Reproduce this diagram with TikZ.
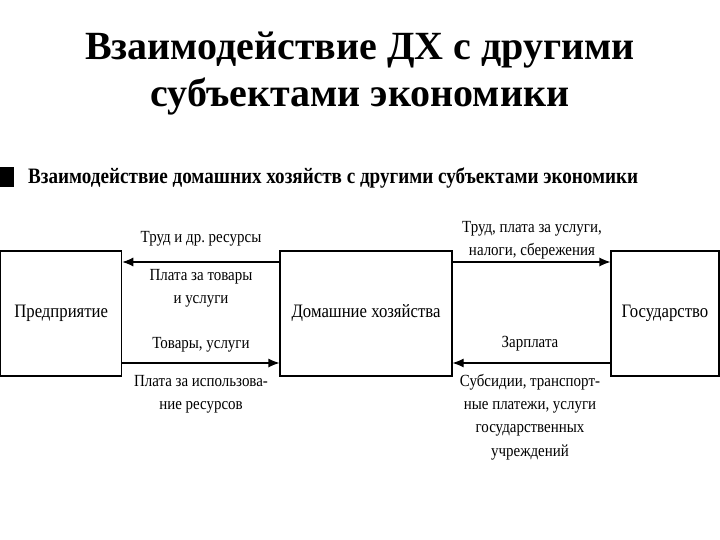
\documentclass[tikz,border=0pt]{standalone}
\usepackage{fontspec}
\setmainfont{Liberation Serif}
\newfontfamily\cond[FakeStretch=0.88]{Liberation Serif}
\usetikzlibrary{arrows.meta}
\begin{document}
\begin{tikzpicture}[x=1pt,y=-1pt,
  box/.style={draw,line width=1.1pt,minimum height=125pt,inner sep=0pt,font=\cond\fontsize{19}{22}\selectfont},
  lbl/.style={align=center,inner sep=0pt,font=\cond\fontsize{17}{23.3}\selectfont},
  arr/.style={line width=1.1pt,-{Latex[length=11pt,width=9pt]}}]
\useasboundingbox (0,0) rectangle (720,540);
\node[align=center,font=\bfseries\fontsize{40}{47}\selectfont] (title) at (360,74) {Взаимодействие ДХ с другими\\субъектами экономики};
\fill (0,167) rectangle (14,187);
\node[anchor=west,inner sep=0pt] (sub) at (28,178) {\resizebox{610pt}{\height}{\bfseries\fontsize{22}{26}\selectfont Взаимодействие домашних хозяйств с другими субъектами экономики}};
\node[box,minimum width=121pt] (firm) at (61.2,313.5) {Предприятие};
\node[box,minimum width=172pt] (hh) at (366,313.5) {Домашние хозяйства};
\node[box,minimum width=108pt] (gov) at (665,313.5) {Государство};
\draw[arr] ([yshift=51.5pt]hh.west) -- ([yshift=51.5pt]firm.east);
\draw[arr] ([yshift=-49.5pt]firm.east) -- ([yshift=-49.5pt]hh.west);
\draw[arr] ([yshift=51.5pt]hh.east) -- ([yshift=51.5pt]gov.west);
\draw[arr] ([yshift=-49.5pt]gov.west) -- ([yshift=-49.5pt]hh.east);
\node[lbl] (l1) at (201,239) {Труд и др.\ ресурсы};
\node[lbl] (l2) at (201,288) {Плата за товары\\и услуги};
\node[lbl] (l3) at (201,345) {Товары, услуги};
\node[lbl] (l4) at (201,394) {Плата за использова-\\ние ресурсов};
\node[lbl] (r1) at (532,240) {Труд, плата за услуги,\\налоги, сбережения};
\node[lbl] (r2) at (530,344) {Зарплата};
\node[lbl] (r3) at (530,417) {Субсидии, транспорт-\\ные платежи, услуги\\государственных\\учреждений};
\end{tikzpicture}
\end{document}
